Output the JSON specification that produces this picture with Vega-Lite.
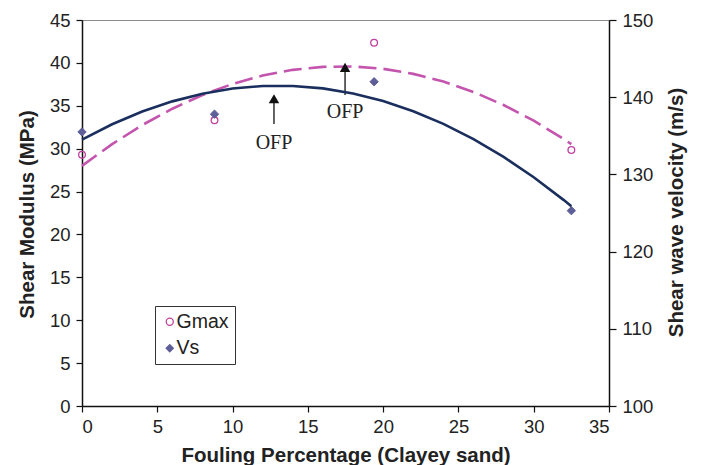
{
  "$schema": "https://vega.github.io/schema/vega-lite/v6.json",
  "width": 527,
  "height": 386,
  "autosize": "none",
  "padding": {"left": 82, "top": 20, "right": 93, "bottom": 59},
  "background": "white",
  "config": {
    "view": {"stroke": "#8c8c8c", "strokeWidth": 1},
    "axis": {
      "grid": false,
      "domainColor": "#111",
      "domainWidth": 1.5,
      "tickColor": "#111",
      "tickWidth": 1.2,
      "labelFont": "Liberation Sans",
      "labelFontSize": 18.5,
      "labelColor": "#222",
      "titleFont": "Liberation Sans",
      "titleFontSize": 20.5,
      "titleFontWeight": "bold",
      "titleColor": "#222"
    },
    "legend": {
      "orient": "none", "legendX": 73, "legendY": 286,
      "direction": "vertical",
      "strokeColor": "#333", "fillColor": "white", "padding": 6,
      "labelFont": "Liberation Sans", "labelFontSize": 19.5, "labelColor": "#222",
      "symbolSize": 50, "symbolStrokeWidth": 1.3, "labelOffset": -3, "rowPadding": 5.5,
      "symbolOffset": -1
    }
  },
  "datasets": {
    "pts": [
      {"fouling": 0, "series": "Gmax", "value": 29.3},
      {"fouling": 8.8, "series": "Gmax", "value": 33.3},
      {"fouling": 19.4, "series": "Gmax", "value": 42.35},
      {"fouling": 32.5, "series": "Gmax", "value": 29.85},
      {"fouling": 0, "series": "Vs", "value": 135.5},
      {"fouling": 8.8, "series": "Vs", "value": 137.8},
      {"fouling": 19.4, "series": "Vs", "value": 142.0},
      {"fouling": 32.5, "series": "Vs", "value": 125.3}
    ],
    "trend": [
      {"fouling": 0, "gmax": 28.0, "vs": 134.5},
      {"fouling": 2, "gmax": 30.53, "vs": 136.49},
      {"fouling": 4, "gmax": 32.75, "vs": 138.14},
      {"fouling": 6, "gmax": 34.66, "vs": 139.46},
      {"fouling": 8, "gmax": 36.26, "vs": 140.46},
      {"fouling": 10, "gmax": 37.55, "vs": 141.12},
      {"fouling": 12, "gmax": 38.53, "vs": 141.46},
      {"fouling": 14, "gmax": 39.19, "vs": 141.46},
      {"fouling": 16, "gmax": 39.54, "vs": 141.14},
      {"fouling": 18, "gmax": 39.58, "vs": 140.48},
      {"fouling": 20, "gmax": 39.31, "vs": 139.5},
      {"fouling": 22, "gmax": 38.72, "vs": 138.18},
      {"fouling": 24, "gmax": 37.82, "vs": 136.54},
      {"fouling": 26, "gmax": 36.61, "vs": 134.57},
      {"fouling": 28, "gmax": 35.09, "vs": 132.27},
      {"fouling": 30, "gmax": 33.26, "vs": 129.63},
      {"fouling": 32, "gmax": 31.11, "vs": 126.67},
      {"fouling": 32.5, "gmax": 30.53, "vs": 125.88}
    ],
    "ann": [
      {"fouling": 12.75, "y0": 32.87, "y1": 35.9, "head": 35.82, "ty": 29.96, "label": "OFP"},
      {"fouling": 17.47, "y0": 36.25, "y1": 39.3, "head": 39.48, "ty": 33.54, "label": "OFP"}
    ]
  },
  "encoding": {
    "x": {
      "field": "fouling",
      "type": "quantitative",
      "scale": {"domain": [0, 35], "nice": false, "zero": false},
      "axis": {
        "values": [0, 5, 10, 15, 20, 25, 30, 35],
        "tickSize": 6,
        "labelPadding": 5,
        "title": "Fouling Percentage (Clayey sand)",
        "titleY": 55.5,
        "titleBaseline": "alphabetic"
      }
    }
  },
  "layer": [
    {
      "encoding": {
        "y": {
          "type": "quantitative",
          "scale": {"domain": [0, 45], "nice": false},
          "axis": {
            "orient": "left",
            "values": [0, 5, 10, 15, 20, 25, 30, 35, 40, 45],
            "tickSize": 6,
            "labelPadding": 6,
            "title": "Shear Modulus (MPa)",
            "titleAngle": -90,
            "titleX": -49,
            "titleY": 194,
            "titleBaseline": "alphabetic",
            "titleAlign": "center"
          }
        }
      },
      "layer": [
        {
          "data": {"name": "trend"},
          "mark": {"type": "line", "color": "#C455AE", "strokeWidth": 2.6, "strokeDash": [18, 7]},
          "encoding": {"y": {"field": "gmax", "type": "quantitative"}}
        },
        {
          "data": {"name": "ann"},
          "mark": {"type": "rule", "color": "#111", "strokeWidth": 1.3},
          "encoding": {"y": {"field": "y0", "type": "quantitative"}, "y2": {"field": "y1"}}
        },
        {
          "data": {"name": "ann"},
          "mark": {"type": "point", "shape": "triangle-up", "filled": true, "color": "#111", "size": 110, "opacity": 1},
          "encoding": {"y": {"field": "head", "type": "quantitative"}}
        },
        {
          "data": {"name": "ann"},
          "mark": {"type": "text", "font": "Liberation Serif", "fontSize": 20, "color": "#222", "baseline": "alphabetic", "align": "center"},
          "encoding": {"y": {"field": "ty", "type": "quantitative"}, "text": {"field": "label"}}
        },
        {
          "data": {"name": "pts"},
          "transform": [{"filter": "datum.series === 'Gmax'"}],
          "mark": {"type": "point", "size": 45, "strokeWidth": 1.3, "opacity": 1},
          "encoding": {
            "y": {"field": "value", "type": "quantitative"},
            "shape": {"field": "series", "type": "nominal", "scale": {"domain": ["Gmax", "Vs"], "range": ["circle", "diamond"]}, "legend": {"title": null}},
            "stroke": {"field": "series", "type": "nominal", "scale": {"domain": ["Gmax", "Vs"], "range": ["#C040A0", "#5E5E98"]}, "legend": {"title": null}},
            "fill": {"field": "series", "type": "nominal", "scale": {"domain": ["Gmax", "Vs"], "range": ["transparent", "#5E5E98"]}, "legend": {"title": null}}
          }
        }
      ]
    },
    {
      "encoding": {
        "y": {
          "type": "quantitative",
          "scale": {"domain": [100, 150], "nice": false, "zero": false},
          "axis": {
            "orient": "right",
            "values": [100, 110, 120, 130, 140, 150],
            "tickSize": 7,
            "labelPadding": 6,
            "title": "Shear wave velocity (m/s)",
            "titleAngle": -90,
            "titleX": 73,
            "titleY": 192,
            "titleBaseline": "alphabetic",
            "titleAlign": "center"
          }
        }
      },
      "layer": [
        {
          "data": {"name": "trend"},
          "mark": {"type": "line", "color": "#1B2F5E", "strokeWidth": 2.6},
          "encoding": {"y": {"field": "vs", "type": "quantitative"}}
        },
        {
          "data": {"name": "pts"},
          "transform": [{"filter": "datum.series === 'Vs'"}],
          "mark": {"type": "point", "size": 70, "strokeWidth": 1, "opacity": 1},
          "encoding": {
            "y": {"field": "value", "type": "quantitative"},
            "shape": {"field": "series", "type": "nominal", "scale": {"domain": ["Gmax", "Vs"], "range": ["circle", "diamond"]}, "legend": {"title": null}},
            "stroke": {"field": "series", "type": "nominal", "scale": {"domain": ["Gmax", "Vs"], "range": ["#C040A0", "#5E5E98"]}, "legend": {"title": null}},
            "fill": {"field": "series", "type": "nominal", "scale": {"domain": ["Gmax", "Vs"], "range": ["transparent", "#5E5E98"]}, "legend": {"title": null}}
          }
        }
      ]
    }
  ],
  "resolve": {"scale": {"y": "independent"}}
}
